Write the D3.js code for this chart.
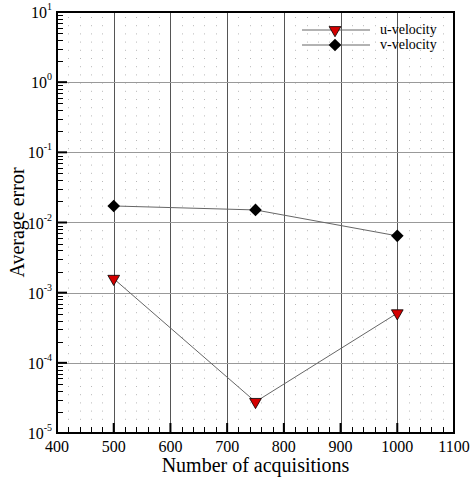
<!DOCTYPE html>
<html><head><meta charset="utf-8">
<script src="https://cdn.jsdelivr.net/npm/d3@7"></script>
<style>body{margin:0;background:#fff}</style>
</head><body>
<svg id="c" width="471" height="483" font-family="'Liberation Serif', 'Times New Roman', 'DejaVu Serif', serif"></svg>
<script>
const acquisitions = [500, 750, 1000];
const uVelocity = [0.00158, 0.0000278, 0.00051];
const vVelocity = [0.0172, 0.0151, 0.00645];
const xTicks = [400, 500, 600, 700, 800, 900, 1000, 1100];
const yExponents = [1, 0, -1, -2, -3, -4, -5];

const svg = d3.select("#c");
const L = 57, R = 454, T = 12, B = 433;
const x = d3.scaleLinear().domain([400, 1100]).range([L, R]);
const y = d3.scaleLog().domain([1e-5, 10]).range([B, T]);

// minor dotted grid (vertical only)
const minorX = d3.range(420, 1100, 20).filter(v => v % 100 !== 0);
const minorY = [];
for (let e = -5; e < 1; e++) for (let m = 2; m <= 9; m++) minorY.push(m * Math.pow(10, e));
const g = svg.append("g");
minorX.forEach(v => g.append("line").attr("x1", Math.round(x(v)) + 0.5).attr("x2", Math.round(x(v)) + 0.5).attr("y1", T + 5).attr("y2", B)
  .attr("stroke", "#b8b8b8").attr("stroke-width", 1).attr("stroke-dasharray", "1,7.2"));
// major grid
xTicks.slice(1, -1).forEach(v => g.append("line").attr("x1", Math.round(x(v)) + 0.5).attr("x2", Math.round(x(v)) + 0.5).attr("y1", T).attr("y2", B)
  .attr("stroke", "#555").attr("stroke-width", 1));
yExponents.slice(1, -1).forEach(e => g.append("line").attr("x1", L).attr("x2", R).attr("y1", Math.round(y(Math.pow(10, e))) + 0.5).attr("y2", Math.round(y(Math.pow(10, e))) + 0.5)
  .attr("stroke", "#999").attr("stroke-width", 1));

// ticks (inside)
const t = svg.append("g").attr("stroke", "#000");
xTicks.forEach(v => t.append("line").attr("x1", x(v)).attr("x2", x(v)).attr("y1", B).attr("y2", B - 10).attr("stroke-width", 2));
minorX.forEach(v => t.append("line").attr("x1", Math.round(x(v)) + 0.5).attr("x2", Math.round(x(v)) + 0.5).attr("y1", B).attr("y2", B - 6).attr("stroke-width", 1));
yExponents.forEach(e => t.append("line").attr("x1", L).attr("x2", L + 10).attr("y1", y(Math.pow(10, e))).attr("y2", y(Math.pow(10, e))).attr("stroke-width", 2));
minorY.forEach(v => t.append("line").attr("x1", L).attr("x2", L + 6).attr("y1", Math.round(y(v)) + 0.5).attr("y2", Math.round(y(v)) + 0.5).attr("stroke-width", 1));

// frame
svg.append("rect").attr("x", L).attr("y", T).attr("width", R - L).attr("height", B - T)
  .attr("fill", "none").attr("stroke", "#000").attr("stroke-width", 2);

// tick labels
xTicks.forEach(v => svg.append("text").attr("x", x(v)).attr("y", B + 19).attr("text-anchor", "middle")
  .attr("font-size", 16).text(v));
yExponents.forEach(e => {
  const tx = svg.append("text").attr("x", 52).attr("y", y(Math.pow(10, e)) + 6).attr("text-anchor", "end").attr("font-size", 16);
  tx.append("tspan").text("10");
  tx.append("tspan").attr("dy", -8).attr("font-size", 10).text(e);
});

// axis titles
svg.append("text").attr("x", (L + R) / 2).attr("y", 472).attr("text-anchor", "middle").attr("font-size", 20).text("Number of acquisitions");
svg.append("text").attr("transform", `translate(24,${(T + B) / 2}) rotate(-90)`).attr("text-anchor", "middle").attr("font-size", 20).text("Average error");

// lines
const line = d3.line().x(d => x(d[0])).y(d => y(d[1]));
const vData = acquisitions.map((a, i) => [a, vVelocity[i]]);
const uData = acquisitions.map((a, i) => [a, uVelocity[i]]);
[vData, uData].forEach(d => svg.append("path").attr("d", line(d)).attr("fill", "none").attr("stroke", "#666").attr("stroke-width", 1));

const tri = d3.symbol().type(d3.symbolTriangle).size(60)();
const dia = d3.symbol().type(d3.symbolSquare).size(80)();
function triMark(sel, cx, cy) { sel.append("path").attr("d", tri).attr("transform", `translate(${cx},${cy}) rotate(180)`).attr("fill", "#d40000").attr("stroke", "#000").attr("stroke-width", 0.8); }
function diaMark(sel, cx, cy) { sel.append("path").attr("d", dia).attr("transform", `translate(${cx},${cy}) rotate(45)`).attr("fill", "#000"); }
vData.forEach(d => diaMark(svg, x(d[0]), y(d[1])));
uData.forEach(d => triMark(svg, x(d[0]), y(d[1])));

// legend
const lg = svg.append("g");
[["u-velocity", 30, triMark], ["v-velocity", 45, diaMark]].forEach(([name, ly, mk]) => {
  lg.append("line").attr("x1", 302).attr("x2", 370).attr("y1", ly).attr("y2", ly).attr("stroke", "#666").attr("stroke-width", 1);
  mk(lg, 335, ly);
  lg.append("text").attr("x", 380).attr("y", ly + 4).attr("font-size", 14).text(name);
});
</script>
</body></html>
